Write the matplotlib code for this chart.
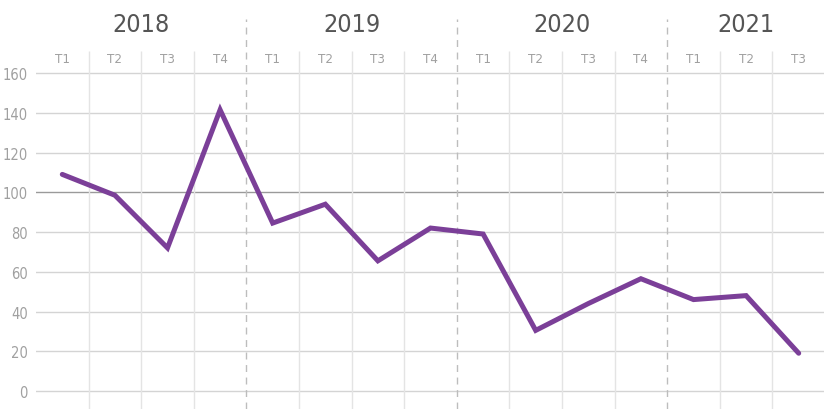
import matplotlib.pyplot as plt

years = ["2018", "2019", "2020", "2021"]
quarters = ["T1", "T2", "T3", "T4", "T1", "T2", "T3", "T4",
            "T1", "T2", "T3", "T4", "T1", "T2", "T3"]
values = [109, 98.5, 72, 141.5, 84.5, 94, 65.5, 82, 79, 30.5, 44, 56.5, 46, 48, 19]
quarters_per_year = [4, 4, 4, 3]

plt.rcParams["font.family"] = ["DejaVu Sans"]
plt.rcParams["font.stretch"] = "condensed"

fig = plt.figure(figsize=(8.24, 4.10), dpi=100)
ax = fig.add_axes([36 / 824, 0, 789 / 824, 390 / 410])

n = len(values)
x = [i + 0.5 for i in range(n)]

ax.set_xlim(0, n)
ax.set_ylim(-9.06, 187.2)

# horizontal grid
for v in range(0, 161, 20):
    color = "#9a9a9a" if v == 100 else "#d4d4d4"
    ax.axhline(v, color=color, lw=1, zorder=1)

# quarter separators and year separators
top_q = 171.0
boundary = 0
year_bounds = [0]
for q in quarters_per_year:
    boundary += q
    year_bounds.append(boundary)
for i in range(1, n):
    if i in year_bounds:
        ax.vlines(i, -9.06, 187.2, color="#bdbdbd", lw=1,
                  linestyles=(0, (5, 4)), zorder=1)
    else:
        ax.vlines(i, -9.06, top_q, color="#e4e4e4", lw=1, zorder=1)

ax.plot(x, values, color="#7b3f98", lw=3.6, solid_joinstyle="miter",
        solid_capstyle="round", zorder=3)

# quarter labels
for xi, q in zip(x, quarters):
    ax.text(xi, 167.5, q, ha="center", va="center", fontsize=9.5,
            color="#a0a0a0")

# year labels
for k, year in enumerate(years):
    center = (year_bounds[k] + year_bounds[k + 1]) / 2
    ax.text(center, 184.5, year, ha="center", va="center", fontsize=18,
            color="#555555")

ax.set_yticks(range(0, 161, 20))
ax.set_xticks([])
ax.tick_params(axis="y", length=0, pad=6, labelsize=10.5, labelcolor="#a0a0a0")
for spine in ax.spines.values():
    spine.set_visible(False)

fig.savefig("out.png", dpi=100)
